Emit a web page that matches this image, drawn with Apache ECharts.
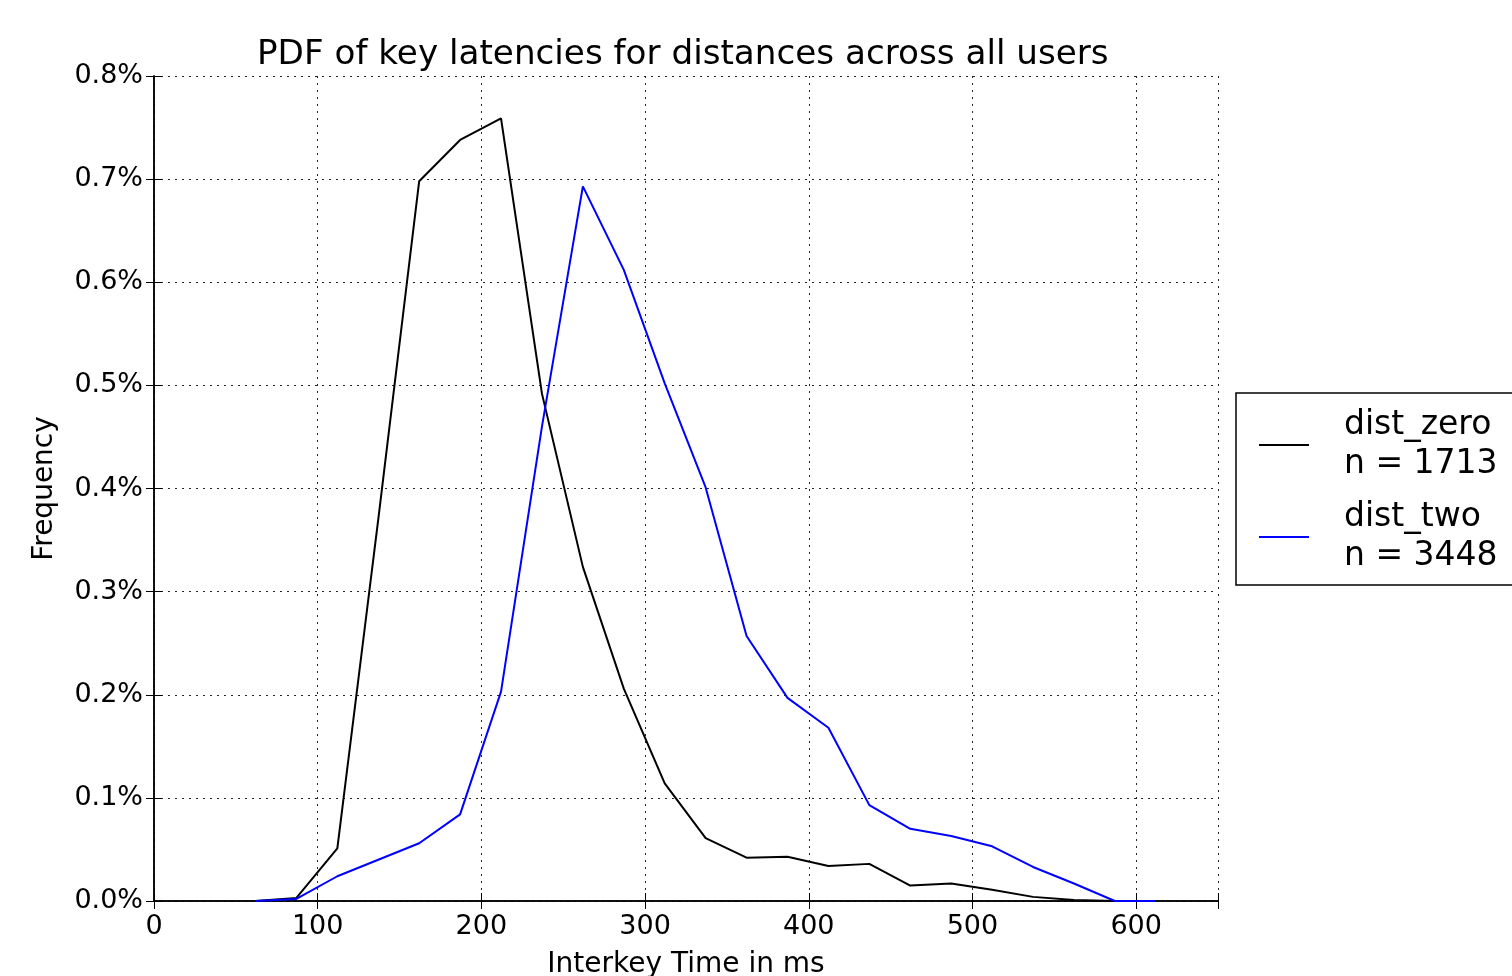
<!DOCTYPE html>
<html>
<head>
<meta charset="utf-8">
<script src="https://cdn.jsdelivr.net/npm/echarts@6/dist/echarts.min.js"></script>
<style>
html,body{margin:0;padding:0;background:#fff;overflow:hidden;}
#chart{width:1512px;height:976px;}
</style>
</head>
<body>
<div id="chart"></div>
<script>
// Bin centers (ms)
var xValues = [62, 87, 112, 137, 162, 187, 212, 237, 262, 287, 312, 337, 362, 387, 412, 437, 462, 487, 512, 537, 562, 587, 612];
// Frequencies in percent
var distZero = [0.000, 0.003, 0.051, 0.370, 0.698, 0.738, 0.759, 0.492, 0.324, 0.206, 0.114, 0.061, 0.042, 0.043, 0.034, 0.036, 0.015, 0.017, 0.011, 0.004, 0.001, 0.000, 0.000];
var distTwo  = [0.000, 0.002, 0.024, 0.040, 0.056, 0.084, 0.203, 0.460, 0.693, 0.612, 0.502, 0.401, 0.257, 0.197, 0.168, 0.093, 0.070, 0.063, 0.053, 0.033, 0.017, 0.000, 0.000];
var seriesNames = ['dist_zero', 'dist_two'];
var seriesCounts = ['1713', '3448'];
var titleText = 'PDF of key latencies for distances across all users';
var xLabel = 'Interkey Time in ms';
var yLabel = 'Frequency';

var FONT = 'DejaVu Sans';
function pairs(xs, ys) { return xs.map(function (x, i) { return [x, ys[i]]; }); }

var chart = echarts.init(document.getElementById('chart'), null, { width: 1512, height: 976 });
var gridLine = { show: true, lineStyle: { color: '#000', type: [2, 5], width: 1, opacity: 0.85 } };
var axisLine = { show: true, lineStyle: { color: '#000', width: 1.5 } };
var tick = { show: true, inside: true, length: 8, lineStyle: { color: '#000', width: 1 } };

chart.setOption({
  animation: false,
  backgroundColor: '#fff',
  title: {
    text: titleText,
    left: 252, top: 33,
    textStyle: { fontFamily: FONT, fontSize: 34.2, fontWeight: 'normal', color: '#000' }
  },
  grid: { left: 154, top: 76, width: 1064, height: 825, containLabel: false, outerBoundsMode: 'none' },
  legend: {
    orient: 'vertical',
    left: 1236, top: 393,
    padding: [13, 80, 9, 23],
    itemWidth: 50, itemHeight: 2, itemGap: 14,
    icon: 'rect',
    borderColor: '#000', borderWidth: 1.5,
    data: seriesNames,
    formatter: function (name) {
      var i = seriesNames.indexOf(name);
      return name + '\nn = ' + seriesCounts[i];
    },
    textStyle: { fontFamily: FONT, fontSize: 33, lineHeight: 39, color: '#000', padding: [0, 0, 0, 30] }
  },
  xAxis: [{
    type: 'value', min: 0, max: 650, interval: 100, position: 'bottom',
    name: xLabel, nameLocation: 'middle', nameGap: 50,
    nameTextStyle: { fontFamily: FONT, fontSize: 28, color: '#000' },
    axisLine: axisLine, axisTick: tick, splitLine: gridLine,
    axisLabel: {
      margin: 12, fontFamily: FONT, fontSize: 27, color: '#000',
      formatter: function (v) { return v % 100 === 0 ? String(v) : ''; }
    }
  }, {
    type: 'value', min: 0, max: 650, interval: 100, position: 'top',
    axisLine: axisLine, axisTick: tick, splitLine: { show: false }, axisLabel: { show: false }
  }],
  yAxis: [{
    type: 'value', min: 0, max: 0.8, interval: 0.1, position: 'left',
    name: yLabel, nameLocation: 'middle', nameGap: 95,
    nameTextStyle: { fontFamily: FONT, fontSize: 28, color: '#000' },
    axisLine: axisLine, axisTick: tick, splitLine: gridLine,
    axisLabel: {
      margin: 11, fontFamily: FONT, fontSize: 27, color: '#000',
      formatter: function (v) { return v.toFixed(1) + '%'; }
    }
  }, {
    type: 'value', min: 0, max: 0.8, interval: 0.1, position: 'right',
    axisLine: axisLine, axisTick: tick, splitLine: { show: false }, axisLabel: { show: false }
  }],
  series: [{
    name: seriesNames[0], type: 'line', xAxisIndex: 0, yAxisIndex: 0,
    data: pairs(xValues, distZero), symbol: 'none', smooth: false,
    lineStyle: { color: '#000', width: 2 }, itemStyle: { color: '#000' }, z: 3
  }, {
    name: seriesNames[1], type: 'line', xAxisIndex: 0, yAxisIndex: 0,
    data: pairs(xValues, distTwo), symbol: 'none', smooth: false,
    lineStyle: { color: '#0000ff', width: 2 }, itemStyle: { color: '#0000ff' }, z: 4
  }]
});
</script>
</body>
</html>
